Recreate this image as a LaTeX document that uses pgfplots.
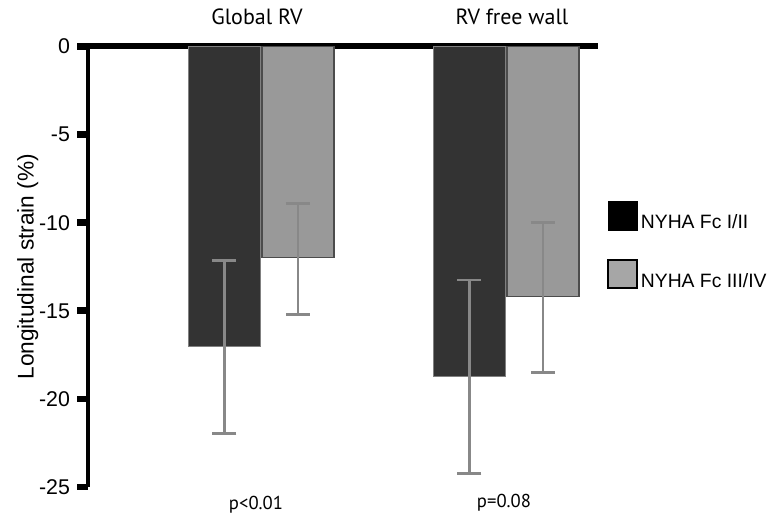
\documentclass[border=0pt]{standalone}
\usepackage{fontspec}
\setmainfont{Liberation Sans}
\newfontfamily\ptsans{PT Sans}
\usepackage{pgfplots}
\pgfplotsset{compat=1.18}
\definecolor{darkbar}{HTML}{333333}
\definecolor{lightbar}{HTML}{999999}
\definecolor{errgray}{HTML}{888888}
\definecolor{legendgray}{HTML}{A6A6A6}

\begin{document}
\begin{tikzpicture}
\useasboundingbox (0,0) rectangle (582pt,396pt);
\begin{axis}[
    at={(66pt,30.75pt)}, anchor=south west,
    scale only axis, width=382.5pt, height=330.4pt,
    xmin=0.2939, xmax=2.3755, ymin=-25, ymax=0,
    axis x line=top, axis y line=left,
    x axis line style={-, line width=4.5pt},
    y axis line style={-, line width=3.2pt},
    xtick=\empty,
    ytick={-25,-20,...,0},
    tick align=outside, major tick length=8pt,
    tick style={line width=5pt, black},
    yticklabel style={font=\fontsize{16}{18}\selectfont, xshift=-2pt},
    /pgf/number format/assume math mode=true,
    ylabel={Longitudinal strain (\%)},
    ylabel style={at={(axis description cs:-0.118,0.5)}, anchor=center, font=\fontsize{17}{20}\selectfont},
    clip=false,
    legend style={at={(1.0176,0.649)}, anchor=north west, draw=none, fill=none,
        inner sep=0pt, row sep=19.5pt, font=\fontsize{14.5}{17}\selectfont, nodes={inner sep=2pt}},
    legend cell align=left,
    legend image code/.code={\draw[#1] (0pt,-5.5pt) rectangle (21.75pt,15.5pt);},
    bar width=0.294,
    error bars/error bar style={line width=2pt, errgray},
    error bars/error mark options={rotate=90, mark size=9pt, line width=2pt, errgray},
]
\addlegendimage{fill=black, draw=black, line width=1pt}
\addlegendimage{fill=legendgray, draw=black, line width=1.5pt}

% NYHA Fc I/II (x = group centre - 0.149)
\addplot[forget plot, ybar, bar shift=0, fill=darkbar, draw=gray, line width=0.6pt,
    error bars/.cd, y dir=both, y explicit]
    coordinates {(0.851,-17) += (0,4.85) -= (0,4.95) (1.851,-18.7) += (0,5.44) -= (0,5.54)};

% NYHA Fc III/IV (x = group centre + 0.151)
\addplot[forget plot, ybar, bar shift=0, fill=lightbar, draw=black!70, line width=0.8pt,
    error bars/.cd, y dir=both, y explicit]
    coordinates {(1.151,-12) += (0,3.08) -= (0,3.2) (2.151,-14.2) += (0,4.2) -= (0,4.3)};

\legend{NYHA Fc I/II, NYHA Fc III/IV}

\node[font=\ptsans\fontsize{16.5}{19}\selectfont] at (axis cs:1,0) [xshift=-3pt, yshift=22pt] {Global RV};
\node[font=\ptsans\fontsize{16.5}{19}\selectfont] at (axis cs:2,0) [xshift=4.5pt, yshift=22pt] {RV free wall};
\node[font=\ptsans\fontsize{14}{17}\selectfont] at (axis cs:1,-25) [xshift=-3.75pt, yshift=-13pt] {p<0.01};
\node[font=\ptsans\fontsize{14}{17}\selectfont] at (axis cs:2,-25) [xshift=-1.5pt, yshift=-12pt] {p=0.08};
\end{axis}
\end{tikzpicture}
\end{document}
